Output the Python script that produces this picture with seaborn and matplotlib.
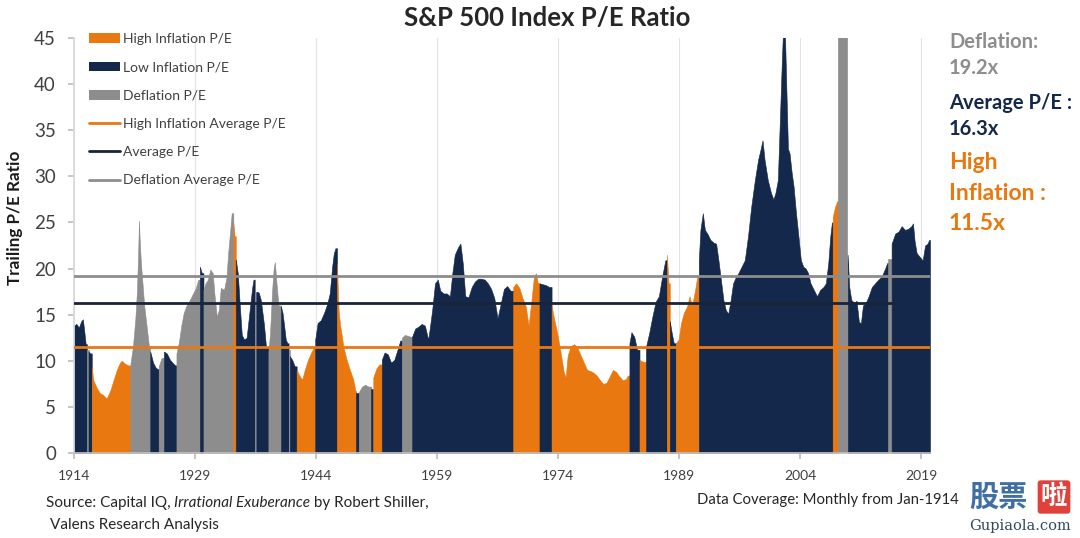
import matplotlib
matplotlib.use("Agg")
import matplotlib.pyplot as plt
import seaborn as sns
import numpy as np
import pandas as pd
from matplotlib.patches import Patch, FancyBboxPatch
from matplotlib.lines import Line2D

# ---------------- data ----------------
year = [
    1914.0, 1914.3, 1914.6, 1914.9, 1915.1, 1915.3, 1915.45,
    1915.6,
    1915.8, 1916.0,
    1916.2, 1916.4, 1916.8, 1917.2, 1917.6, 1918.05, 1918.5, 1918.9, 1919.3, 1919.7, 1919.9, 1920.3, 1920.7,
    1921.0, 1921.3, 1921.6, 1921.8, 1921.95, 1922.05, 1922.15, 1922.3, 1922.5, 1922.7, 1922.9, 1923.1, 1923.3,
    1923.45, 1923.8, 1924.1, 1924.35,
    1924.5, 1924.85,
    1925.15, 1925.5, 1925.9, 1926.3, 1926.55,
    1926.7, 1927.0, 1927.3, 1927.6, 1927.9, 1928.3, 1928.7, 1929.1, 1929.4,
    1929.6, 1929.85,
    1930.05, 1930.3, 1930.6, 1930.9, 1931.2, 1931.4, 1931.7, 1931.95, 1932.2, 1932.6, 1932.9, 1933.1, 1933.35, 1933.55,
    1933.75, 1933.9,
    1934.05, 1934.3, 1934.55, 1934.8, 1935.1, 1935.4, 1935.65, 1935.9, 1936.1, 1936.25,
    1936.4,
    1936.6, 1936.9, 1937.15, 1937.35, 1937.55, 1937.8,
    1938.1, 1938.3, 1938.55, 1938.75, 1938.9, 1939.1, 1939.35,
    1939.65, 1939.85, 1940.05, 1940.25, 1940.45,
    1940.6,
    1940.75, 1941.05, 1941.35,
    1941.6, 1942.0, 1942.3, 1942.6, 1943.0, 1943.4, 1943.75,
    1943.9, 1944.2, 1944.6, 1945.0, 1945.4, 1945.7, 1946.0, 1946.2, 1946.4,
    1946.6, 1946.8, 1947.0, 1947.4, 1947.8, 1948.2, 1948.6, 1948.9,
    1949.0,
    1949.3, 1949.7, 1950.1, 1950.5,
    1950.85,
    1951.1, 1951.5, 1951.85,
    1952.15, 1952.5, 1952.9, 1953.3, 1953.7, 1954.1, 1954.45,
    1954.65, 1955.0, 1955.4, 1955.75,
    1955.9, 1956.3, 1956.7, 1957.1, 1957.5, 1957.9, 1958.1, 1958.4, 1958.75, 1959.1, 1959.4, 1959.8,
    1960.2, 1960.6, 1960.9, 1961.2, 1961.6, 1961.9, 1962.2, 1962.5, 1962.9, 1963.3, 1963.7, 1964.1,
    1964.5, 1964.9, 1965.3, 1965.7, 1966.1, 1966.5, 1966.9, 1967.3, 1967.7, 1968.1,
    1968.45, 1968.8, 1969.2, 1969.6, 1970.0, 1970.35, 1970.7, 1971.0, 1971.25, 1971.5,
    1971.7, 1972.1, 1972.5, 1972.9,
    1973.2, 1973.5, 1973.9, 1974.3, 1974.7, 1974.95, 1975.2, 1975.6, 1976.0, 1976.4, 1976.8, 1977.2, 1977.6,
    1978.0, 1978.4, 1978.8, 1979.2, 1979.6, 1980.0, 1980.4, 1980.8, 1981.2, 1981.6, 1982.0, 1982.4, 1982.65,
    1982.85, 1983.1, 1983.45, 1983.8,
    1984.1, 1984.5,
    1984.9, 1985.3, 1985.7, 1986.1, 1986.5, 1986.9, 1987.3,
    1987.5, 1987.7,
    1987.85, 1988.1, 1988.35,
    1988.6, 1988.95, 1989.25, 1989.6, 1990.0, 1990.3, 1990.6, 1991.0, 1991.25,
    1991.45, 1991.65, 1991.95, 1992.2, 1992.5, 1992.9, 1993.3, 1993.6, 1993.9, 1994.2, 1994.5, 1994.8,
    1995.1, 1995.4, 1995.7, 1996.05, 1996.35, 1996.75, 1997.15, 1997.55, 1997.95, 1998.4, 1998.8, 1999.1,
    1999.35, 1999.6, 2000.0, 2000.4, 2000.7, 2000.95, 2001.25, 2001.5, 2001.75, 2001.9, 2002.1, 2002.3,
    2002.5, 2002.7, 2002.95, 2003.2, 2003.5, 2003.8, 2004.1, 2004.4, 2004.7, 2005.0, 2005.3, 2005.7,
    2006.1, 2006.5, 2006.9, 2007.2, 2007.5, 2007.75, 2007.95,
    2008.05, 2008.35, 2008.6,
    2008.75, 2009.0, 2009.3, 2009.6,
    2009.9, 2010.1, 2010.35, 2010.7, 2011.0, 2011.3, 2011.55, 2011.8, 2012.1, 2012.5, 2012.9, 2013.3,
    2013.7, 2014.1, 2014.5, 2014.8,
    2014.95,
    2015.35, 2015.8, 2016.2, 2016.6, 2017.0, 2017.4, 2017.8, 2018.0, 2018.2, 2018.45, 2018.8, 2019.2,
    2019.5, 2019.8, 2020.0,
]
pe = [
    13.8, 14.0, 13.6, 14.3, 14.5, 13.0, 11.8,
    11.2,
    11.0, 10.8,
    9.3, 7.9, 7.1, 6.5, 6.3, 5.9, 6.8, 7.9, 9.0, 9.8, 10.0, 9.7, 9.5,
    9.7, 11.5, 14.5, 17.5, 21.5, 25.2, 23.0, 20.5, 18.3, 16.0, 14.5, 13.0, 11.5,
    11.0, 9.8, 9.3, 9.1,
    9.4, 10.3,
    11.0, 10.8, 10.1, 9.7, 9.5,
    10.8, 12.0, 13.8, 15.2, 15.9, 16.5, 17.2, 17.9, 18.8,
    20.2, 19.5,
    17.7, 18.4, 18.8, 19.9, 19.5, 17.3, 14.8, 15.5, 17.9, 17.7, 19.0, 21.6, 24.0, 26.0,
    25.0, 23.5,
    21.0, 19.5, 16.0, 12.8, 12.3, 12.5, 14.5, 16.5, 18.0, 18.8,
    17.3,
    17.5, 17.4, 16.6, 15.3, 13.9, 11.5,
    10.9, 13.0, 17.5, 20.0, 20.7, 18.4, 16.0,
    15.9, 15.2, 13.8, 12.3, 11.9,
    11.2,
    10.5, 10.1, 9.4,
    9.0, 8.3, 8.0, 9.0, 10.1, 10.9, 11.5,
    12.3, 14.1, 14.4, 15.2, 16.2, 17.3, 20.2, 21.6, 22.2,
    20.5, 15.5, 13.8, 11.5, 10.1, 9.0, 8.0, 6.7,
    6.5,
    6.6, 7.2, 7.4, 7.2,
    6.9,
    8.2, 9.2, 9.6,
    10.1, 10.9, 10.7, 9.8, 10.1, 11.2, 12.2,
    12.5, 12.8, 12.7, 12.6,
    12.6, 13.5, 13.7, 14.0, 13.8, 12.3, 13.5, 15.5, 18.4, 18.8, 17.6, 17.3,
    17.3, 17.0, 19.5, 21.5, 22.3, 22.7, 20.5, 17.0, 16.9, 18.0, 18.6, 18.9,
    18.9, 18.8, 18.4, 17.8, 16.8, 14.6, 16.2, 17.8, 18.1, 17.6,
    18.0, 18.4, 17.9, 16.8, 15.9, 13.8, 16.5, 19.0, 19.5, 18.4,
    18.4, 18.3, 18.2, 18.0,
    16.0, 14.6, 13.0, 11.0, 8.8, 8.2, 10.6, 11.6, 11.8, 11.4, 10.6, 9.8, 9.0,
    8.9, 8.7, 8.4, 7.9, 7.5, 7.6, 8.3, 9.0, 8.8, 8.3, 7.9, 8.0, 8.4,
    11.9, 13.1, 12.6, 11.2,
    10.1, 9.9,
    11.5, 13.0, 14.8, 16.4, 17.0, 19.1, 20.9,
    21.5, 18.4,
    14.3, 13.0, 11.9,
    11.9, 12.3, 14.1, 15.2, 15.9, 17.0, 15.9, 17.7, 19.1,
    20.9, 24.2, 26.0, 24.2, 23.8, 23.1, 22.8, 22.7, 20.8, 18.7, 16.6, 15.5,
    15.1, 16.6, 18.4, 19.1, 19.5, 20.2, 20.9, 23.5, 26.7, 29.6, 31.8, 32.9,
    33.9, 31.8, 29.6, 28.2, 27.5, 28.2, 29.6, 36.1, 42.6, 46.0, 46.5, 39.7,
    33.0, 32.5, 30.5, 28.9, 26.0, 23.5, 20.9, 20.2, 20.0, 19.5, 18.4, 17.7,
    17.0, 17.7, 18.0, 18.4, 20.6, 23.5, 25.0,
    25.6, 26.7, 27.3,
    60.0, 95.0, 120.0, 70.0,
    21.5, 18.0, 16.6, 16.3, 16.5, 14.2, 14.1, 16.0, 16.2, 17.0, 18.0, 18.4,
    18.8, 19.1, 19.9, 20.6,
    21.0,
    22.7, 23.8, 24.0, 24.6, 24.2, 24.3, 24.6, 24.9, 23.0, 21.7, 21.3, 20.9,
    22.5, 22.7, 23.1,
]
# inflation regimes: each starts at the given year and lasts until the next one
regime_start = [
    1914.0, 1915.6, 1915.8, 1916.2, 1921.0, 1923.45, 1924.5, 1925.15, 1926.7, 1929.6,
    1930.05, 1933.75, 1934.05, 1936.4, 1936.6, 1938.1, 1939.65, 1940.6, 1940.75, 1941.6,
    1943.9, 1946.6, 1949.0, 1949.3, 1950.85, 1951.1, 1952.15, 1954.65, 1955.9, 1968.45,
    1971.7, 1973.2, 1982.85, 1984.1, 1984.9, 1987.5, 1987.85, 1988.6, 1991.45, 2008.05,
    2008.75, 2009.9, 2014.95, 2015.35,
]
regime_name = [
    "Low", "Defl", "Low", "High", "Defl", "Low", "Defl", "Low", "Defl", "Low",
    "Defl", "High", "Low", "Defl", "Low", "Defl", "Low", "Defl", "Low", "High",
    "Low", "High", "Low", "Defl", "Low", "High", "Low", "Defl", "Low", "High",
    "Low", "High", "Low", "High", "Low", "High", "Low", "High", "Low", "High",
    "Defl", "Low", "Defl", "Low",
]
end_year = 2020.11

avg_names = ["Deflation Average P/E", "Average P/E", "High Inflation Average P/E"]
avg_values = [19.2, 16.3, 11.5]
avg_end = [2020.11, 2015.5, 2020.11]

xtick_years = [1914, 1929, 1944, 1959, 1974, 1989, 2004, 2019]
ytick_vals = [0, 5, 10, 15, 20, 25, 30, 35, 40, 45]

# ---------------- style ----------------
ORANGE = "#e8780f"
NAVY = "#14284b"
GRAY = "#8d8d8d"
DARKLINE = "#1a2438"
TXT = "#404040"
colors = {"High": ORANGE, "Low": NAVY, "Defl": GRAY}

sns.set_theme(style="white")
plt.rcParams["font.family"] = ["Lato", "DejaVu Sans"]

fig = plt.figure(figsize=(10.8, 5.38), dpi=100)
ax = fig.add_axes([74 / 1080, 85 / 538, 856 / 1080, 415 / 538])

df = pd.DataFrame({"year": year, "pe": pe})
idx = np.searchsorted(np.array(regime_start), df["year"].to_numpy(), side="right") - 1
df["regime"] = [regime_name[i] for i in idx]
run_id = (df["regime"] != df["regime"].shift()).cumsum()
next_start = list(df["year"].iloc[1:]) + [end_year]
for _, g in df.groupby(run_id):
    last = g.index[-1]
    xs = list(g["year"]) + [next_start[last]]
    ys = list(g["pe"]) + [g["pe"].iloc[-1]]
    c = colors[g["regime"].iloc[0]]
    ax.fill_between(xs, 0, ys, facecolor=c, edgecolor=c, linewidth=0.4, zorder=2)

avg_df = pd.DataFrame({
    "year": [1914.0, avg_end[0], 1914.0, avg_end[1], 1914.0, avg_end[2]],
    "value": [avg_values[0]] * 2 + [avg_values[1]] * 2 + [avg_values[2]] * 2,
    "series": [avg_names[0]] * 2 + [avg_names[1]] * 2 + [avg_names[2]] * 2,
})
sns.lineplot(data=avg_df, x="year", y="value", hue="series",
             palette={avg_names[0]: GRAY, avg_names[1]: DARKLINE, avg_names[2]: ORANGE},
             linewidth=2, legend=False, ax=ax, zorder=3)

ax.set_xlim(1914.0, end_year)
ax.set_ylim(0, 45)
ax.set_xticks(xtick_years)
ax.set_yticks(ytick_vals)
ax.set_xlabel("")
ax.set_ylabel("")
ax.grid(axis="x", color="#e3e3e3", linewidth=0.8, zorder=0)
ax.grid(axis="y", visible=False)
ax.set_axisbelow(True)
for s in ["top", "right"]:
    ax.spines[s].set_visible(False)
ax.spines["left"].set_color("#d9d9d9")
ax.spines["bottom"].set_color("#bfbfbf")
ax.spines["bottom"].set_zorder(4)
ax.tick_params(axis="y", length=4, color="#bfbfbf", pad=9, labelsize=13.5, labelcolor=TXT, left=True)
ax.tick_params(axis="x", length=4, color="#bfbfbf", pad=8, labelsize=10, labelcolor=TXT, bottom=True)

handles = [
    Patch(facecolor=ORANGE, edgecolor="none", label="High Inflation P/E"),
    Patch(facecolor=NAVY, edgecolor="none", label="Low Inflation P/E"),
    Patch(facecolor=GRAY, edgecolor="none", label="Deflation P/E"),
    Line2D([], [], color=ORANGE, linewidth=2, label="High Inflation Average P/E"),
    Line2D([], [], color=DARKLINE, linewidth=2, label="Average P/E"),
    Line2D([], [], color=GRAY, linewidth=2, label="Deflation Average P/E"),
]
leg = ax.legend(handles=handles, loc="upper left", bbox_to_anchor=(0.0062, 1.035),
                frameon=False, fontsize=10, labelspacing=1.17, handlelength=2.25,
                handletextpad=0.2, borderaxespad=0.3)
for t in leg.get_texts():
    t.set_color(TXT)

# title and labels
fig.text(547 / 1080, 1 - 18 / 538, "S&P 500 Index P/E Ratio", ha="center", va="center",
         fontsize=18.5, fontweight="bold", color="#262626")
fig.text(15 / 1080, 1 - 218 / 538, "Trailing P/E Ratio", rotation=90, ha="center", va="center",
         fontsize=12.3, fontweight="bold", color="#1a1a1a")

# right side annotations
rx = 949 / 1080
fig.text(rx, 1 - 42 / 538, "Deflation:", fontsize=14.5, fontweight="bold", color=GRAY, va="center")
fig.text(rx, 1 - 68 / 538, "19.2x", fontsize=14.5, fontweight="bold", color=GRAY, va="center")
fig.text(rx, 1 - 103 / 538, "Average P/E :", fontsize=14.5, fontweight="bold", color=NAVY, va="center")
fig.text(rx, 1 - 129 / 538, "16.3x", fontsize=14.5, fontweight="bold", color=NAVY, va="center")
fig.text(rx, 1 - 163 / 538, "High", fontsize=16.5, fontweight="bold", color=ORANGE, va="center")
fig.text(rx, 1 - 193 / 538, "Inflation :", fontsize=16.5, fontweight="bold", color=ORANGE, va="center")
fig.text(rx, 1 - 223 / 538, "11.5x", fontsize=16.5, fontweight="bold", color=ORANGE, va="center")

# source notes
t1 = fig.text(46 / 1080, 1 - 503 / 538, "Source: Capital IQ, ", fontsize=11, color="#262626", va="center")
t2 = ax.annotate("Irrational Exuberance", xy=(1, 0), xycoords=t1, va="bottom", ha="left",
                 fontsize=11, fontstyle="italic", color="#262626", annotation_clip=False)
ax.annotate(" by Robert Shiller,", xy=(1, 0), xycoords=t2, va="bottom", ha="left",
            fontsize=11, color="#262626", annotation_clip=False)
fig.text(50 / 1080, 1 - 525 / 538, "Valens Research Analysis", fontsize=11, color="#262626", va="center")
fig.text(697 / 1080, 1 - 500 / 538, "Data Coverage: Monthly from Jan-1914", fontsize=10.7,
         color="#262626", va="center")

# watermark
fig.patches.append(FancyBboxPatch((963 / 1080, 1 - 537 / 538), 115 / 1080, 62 / 538,
                                  boxstyle="square,pad=0", transform=fig.transFigure,
                                  facecolor="white", edgecolor="none", alpha=0.85, zorder=5))
fig.text(998 / 1080, 1 - 497 / 538, "股票", fontsize=21, fontweight="bold", color="#3f6fa3",
         ha="center", va="center", family=["Noto Sans CJK SC", "DejaVu Sans"], zorder=6)
fig.text(1054 / 1080, 1 - 497 / 538, "啦", fontsize=19, fontweight="bold", color="white",
         ha="center", va="center", family=["Noto Sans CJK SC", "DejaVu Sans"], zorder=6,
         bbox=dict(boxstyle="round,pad=0.12", facecolor="#e0413b", edgecolor="none"))
fig.text(1020 / 1080, 1 - 526 / 538, "Gupiaola.com", fontsize=10.5, color="#34495e",
         ha="center", va="center", family=["DejaVu Serif"], zorder=6)

fig.savefig("out.png", dpi=100)
